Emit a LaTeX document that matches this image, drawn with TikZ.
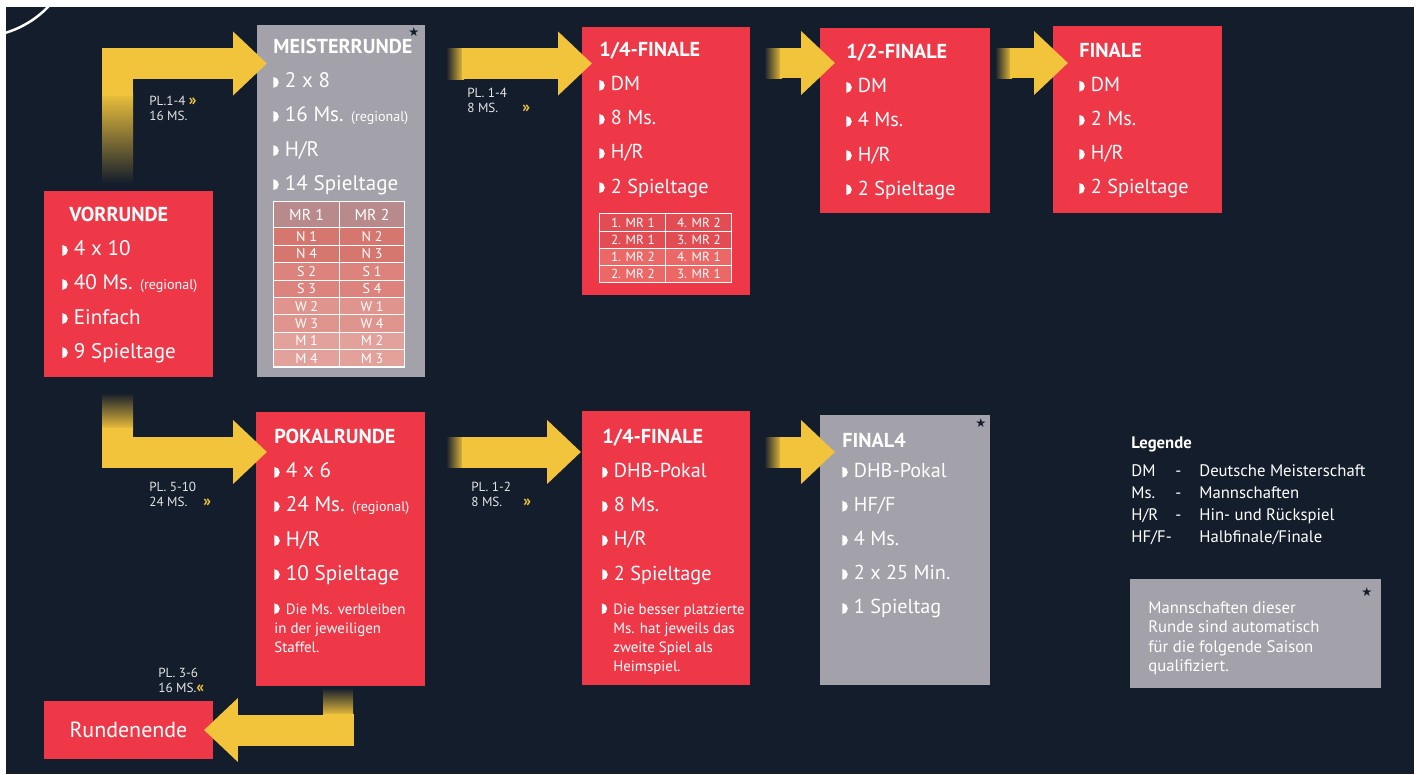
\documentclass[tikz,border=0pt]{standalone}
\usepackage{fontspec}
\setmainfont{PT Sans}
\newfontfamily\dejavu{DejaVu Sans}
\usetikzlibrary{positioning,calc,matrix,arrows.meta}

\definecolor{navy}{HTML}{141D2B}
\definecolor{dhbred}{HTML}{EE3848}
\definecolor{dhbgrey}{HTML}{A3A1A9}
\definecolor{dhbyellow}{HTML}{F2C43C}
\definecolor{mrhead}{HTML}{B88A8C}
\definecolor{mrn}{HTML}{D6776F}
\definecolor{mrs}{HTML}{DB837C}
\definecolor{mrw}{HTML}{DF958E}
\definecolor{mrm}{HTML}{E2A29B}
\definecolor{qfa}{HTML}{E24D53}
\definecolor{qfb}{HTML}{EC6866}

\newcommand{\bul}{\tikz[baseline=0pt]\fill[white] (0pt,0pt) -- (0pt,6.2pt) arc[start angle=90,end angle=-90,radius=3.1pt] -- cycle;\hspace{3.5pt}}
\newcommand{\head}[1]{{\fontsize{11.5}{19.4}\selectfont\bfseries #1}}
\newcommand{\regio}{{\fontsize{8}{8}\selectfont (regional)}}
\newcommand{\fwd}{\textcolor{dhbyellow}{\bfseries\fontsize{9}{9}\selectfont »}}
\newcommand{\bwd}{\textcolor{dhbyellow}{\bfseries\fontsize{9}{9}\selectfont «}}

\begin{document}
\begin{tikzpicture}[x=0.02cm,y=-0.02cm]

  \tikzset{
    box/.style={anchor=north west,inner sep=0pt,outer sep=0pt,minimum width=3.38cm},
    redbox/.style={box,fill=dhbred},
    greybox/.style={box,fill=dhbgrey},
    content/.style={anchor=north west,inner sep=0pt,text=white,align=left,
      font=\fontsize{12}{19.4}\selectfont},
    finalcontent/.style={content,font=\fontsize{11.5}{19.4}\selectfont},
    smalltext/.style={anchor=north west,inner sep=0pt,text=white,align=left,
      font=\fontsize{8.5}{10.8}\selectfont},
    legendtext/.style={anchor=north west,inner sep=0pt,text=white,align=left,
      font=\fontsize{9.5}{12.5}\selectfont},
    plabel/.style={anchor=north west,inner sep=0pt,text=white!88!navy,align=left,
      font=\fontsize{7.5}{8.3}\selectfont},
    bigarrow/.style={draw=dhbyellow,line width=0.62cm,
      -{Triangle[length=0.68cm,width=1.24cm]}},
    fadeh/.style={left color=navy,right color=dhbyellow},
    starmark/.style={inner sep=0pt,text=navy,font=\dejavu\fontsize{7}{7}\selectfont},
    tab/.style={matrix of nodes,inner sep=0pt,row sep=-0.6pt,column sep=-0.6pt,
      nodes={draw=white,line width=0.6pt,text=white,inner sep=0pt,anchor=center}}
  }

  % background
  \useasboundingbox (0,0) rectangle (1422,774);
  \fill[white] (0,0) rectangle (1422,774);
  \fill[navy] (6,7) rectangle (1414,774);
  \begin{scope}
    \clip (6,7) rectangle (90,70);
    \draw[white,line width=0.05cm] (-23,-62) circle[radius=1.98cm];
  \end{scope}

  % rounds
  \node[redbox,minimum height=3.72cm] (vor) at (44,191) {};
  \node[greybox,minimum width=3.36cm,minimum height=7.04cm] (meist) at (257,25) {};
  \node[redbox,minimum width=3.36cm,minimum height=5.36cm] (qf1) at (582,27) {};
  \node[redbox,minimum width=3.4cm,minimum height=3.7cm] (hf) at (820,28) {};
  \node[redbox,minimum height=3.74cm] (fin) at (1053,26) {};
  \node[redbox,minimum height=5.48cm] (pokal) at (256,412) {};
  \node[redbox,minimum width=3.36cm,minimum height=5.48cm] (qf2) at (582,411) {};
  \node[greybox,minimum width=3.4cm,minimum height=5.4cm] (final4) at (820,415) {};
  \node[redbox,minimum height=1.16cm,text=white,font=\fontsize{12.5}{14}\selectfont] (ende) at (44,701) {Rundenende};
  \node[greybox,minimum width=5.02cm,minimum height=2.18cm] (hinweis) at (1130,579) {};

  % arrows
  \shade[top color=dhbyellow,bottom color=navy] (102,92) rectangle (133,183);
  \draw[bigarrow] ($(vor.north west)+(73.5,-95)$) |- ($(meist.north west)+(10,38.5)$);
  \shade[fadeh] (446,48) rectangle (464,79);
  \draw[bigarrow] ($(meist.north east)+(37,38.5)$) -- ($(qf1.north west)+(10,36.5)$);
  \shade[fadeh] (764,48) rectangle (782,78);
  \draw[bigarrow] ($(qf1.north east)+(30,36)$) -- ($(hf.north west)+(15,35)$);
  \shade[fadeh] (995,48) rectangle (1012,78);
  \draw[bigarrow] ($(hf.north east)+(20,35)$) -- ($(fin.north west)+(15,37)$);

  \shade[top color=navy,bottom color=dhbyellow] (102,393) rectangle (133,430);
  \draw[bigarrow] ($(vor.south west)+(73.5,51)$) |- ($(pokal.north west)+(11,40)$);
  \shade[fadeh] (446,437) rectangle (464,467);
  \draw[bigarrow] ($(pokal.north east)+(37,40)$) -- ($(qf2.north west)+(-1,41)$);
  \shade[fadeh] (764,437) rectangle (782,467);
  \draw[bigarrow] ($(qf2.north east)+(30,41)$) -- ($(final4.north west)+(15,37)$);
  \shade[top color=navy,bottom color=dhbyellow] (323,688) rectangle (353,716);
  \draw[bigarrow] ($(pokal.south west)+(82,28)$) |- ($(ende.east)+(-9,0)$);

  % texts in the rounds
  \node[content,below right=0.32cm and 0.36cm of vor.north west] (vortxt)
    {\hspace{4pt}\head{VORRUNDE}\\ \bul 4 x 10\\ \bul 40 Ms. \regio\\ \bul Einfach\\ \bul 9 Spieltage};
  \node[content,below right=0.28cm and 0.32cm of meist.north west] (meisttxt)
    {\head{MEISTERRUNDE}\\ \bul 2 x 8\\ \bul 16 Ms. \regio\\ \bul H/R\\ \bul 14 Spieltage};
  \node[finalcontent,below right=0.3cm and 0.34cm of qf1.north west] (qf1txt)
    {\head{1/4-FINALE}\\ \bul DM\\ \bul 8 Ms.\\ \bul H/R\\ \bul 2 Spieltage};
  \node[finalcontent,below right=0.32cm and 0.52cm of hf.north west] (hftxt)
    {\head{1/2-FINALE}\\ \bul DM\\ \bul 4 Ms.\\ \bul H/R\\ \bul 2 Spieltage};
  \node[finalcontent,below right=0.34cm and 0.52cm of fin.north west] (fintxt)
    {\head{FINALE}\\ \bul DM\\ \bul 2 Ms.\\ \bul H/R\\ \bul 2 Spieltage};
  \node[content,below right=0.34cm and 0.36cm of pokal.north west] (pokaltxt)
    {\head{POKALRUNDE}\\ \bul 4 x 6\\ \bul 24 Ms. \regio\\ \bul H/R\\ \bul 10 Spieltage};
  \node[smalltext,below right=3.82cm and 0.36cm of pokal.north west] (pokalnote)
    {\bul Die Ms. verbleiben\\in der jeweiligen\\Staffel.};
  \node[finalcontent,below right=0.36cm and 0.4cm of qf2.north west] (qf2txt)
    {\head{1/4-FINALE}\\ \bul DHB-Pokal\\ \bul 8 Ms.\\ \bul H/R\\ \bul 2 Spieltage};
  \node[smalltext,below right=3.84cm and 0.62cm of qf2.north west] (qf2note)
    {\llap{\bul}Die besser platzierte\\Ms. hat jeweils das\\zweite Spiel als\\Heimspiel.};
  \node[finalcontent,below right=0.36cm and 0.44cm of final4.north west] (f4txt)
    {\head{FINAL4}\\[-2.3pt] \bul DHB-Pokal\\ \bul HF/F\\ \bul 4 Ms.\\ \bul 2 x 25 Min.\\ \bul 1 Spieltag};

  % tables
  \matrix (mrtab) [tab,below right=3.52cm and 0.32cm of meist.north west,
      nodes={minimum width=1.31cm,minimum height=0.348cm,font=\fontsize{8}{8}\selectfont},
      row 1/.style={nodes={fill=mrhead,minimum height=0.52cm,font=\fontsize{9}{9}\selectfont}},
      row 2/.style={nodes={fill=mrn}},row 3/.style={nodes={fill=mrn}},
      row 4/.style={nodes={fill=mrs}},row 5/.style={nodes={fill=mrs}},
      row 6/.style={nodes={fill=mrw}},row 7/.style={nodes={fill=mrw}},
      row 8/.style={nodes={fill=mrm}},row 9/.style={nodes={fill=mrm}}]
  {
    MR 1 & MR 2\\
    N 1 & N 2\\
    N 4 & N 3\\
    S 2 & S 1\\
    S 3 & S 4\\
    W 2 & W 1\\
    W 3 & W 4\\
    M 1 & M 2\\
    M 4 & M 3\\
  };
  \matrix (qftab) [tab,below right=3.72cm and 0.34cm of qf1.north west,
      nodes={minimum width=1.32cm,minimum height=0.345cm,font=\fontsize{7.5}{7.5}\selectfont},
      row 1/.style={nodes={fill=qfa}},row 2/.style={nodes={fill=qfa}},
      row 3/.style={nodes={fill=qfb}},row 4/.style={nodes={fill=qfb}}]
  {
    1. MR 1 & 4. MR 2\\
    2. MR 1 & 3. MR 2\\
    1. MR 2 & 4. MR 1\\
    2. MR 2 & 3. MR 1\\
  };

  % stars
  \node[starmark] (meiststar) at ($(meist.north east)+(-11,7)$) {★};
  \node[starmark] (f4star) at ($(final4.north east)+(-9,8)$) {★};
  \node[starmark] (notestar) at ($(hinweis.north east)+(-14,13)$) {★};

  % labels on the arrows
  \node[plabel] (pl1) at (149,96) {PL.1-4 \fwd\\16 MS.};
  \node[plabel] (pl2) at (467,88) {PL. 1-4\\\makebox[1.1cm][l]{8 MS.}\fwd};
  \node[plabel] (pl3) at (149,482) {PL. 5-10\\\makebox[1.08cm][l]{24 MS.}\fwd};
  \node[plabel] (pl4) at (471,482) {PL. 1-2\\\makebox[1.04cm][l]{8 MS.}\fwd};
  \node[plabel] (pl5) at (158,668) {PL. 3-6\\16 MS.\bwd};

  % legend and note
  \node[legendtext] (legende) at (1131,436)
    {\textbf{Legende}\\[3.5pt]
     \makebox[0.88cm][l]{DM}\makebox[0.48cm][l]{-}Deutsche Meisterschaft\\
     \makebox[0.88cm][l]{Ms.}\makebox[0.48cm][l]{-}Mannschaften\\
     \makebox[0.88cm][l]{H/R}\makebox[0.48cm][l]{-}Hin- und Rückspiel\\
     \makebox[1.36cm][l]{HF/F-}Halbfinale/Finale};
  \node[legendtext,font=\fontsize{9.5}{11.1}\selectfont,below right=0.44cm and 0.36cm of hinweis.north west] (hinweistxt)
    {Mannschaften dieser\\Runde sind automatisch\\für die folgende Saison\\qualifiziert.};

\end{tikzpicture}
\end{document}
